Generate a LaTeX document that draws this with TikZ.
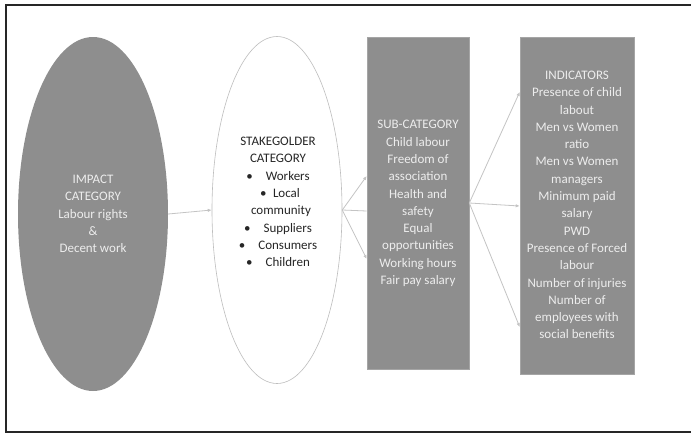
\documentclass[tikz,border=0pt]{standalone}
\usepackage{fontspec}
\setmainfont{Carlito}
\usetikzlibrary{shapes.geometric,arrows.meta}
\definecolor{boxgray}{HTML}{8E8E8E}
\definecolor{lighttext}{HTML}{EDEDED}
\definecolor{darktext}{HTML}{262626}
\definecolor{linegray}{HTML}{C4C4C4}
\definecolor{rimgray}{HTML}{BDBDBD}
\tikzset{
  txt/.style={align=center,font=\fontsize{13}{17.3}\selectfont,inner sep=0pt},
  graybox/.style={rectangle,fill=boxgray,draw=boxgray!80!white,line width=0.6pt,inner sep=0pt},
  conn/.style={draw=linegray,line width=0.8pt,-{Latex[length=4pt,width=3.5pt]}},
  plainconn/.style={draw=linegray,line width=0.8pt}
}
\begin{document}
\begin{tikzpicture}[x=1pt,y=-1pt]
\useasboundingbox (0,0) rectangle (691,434);
\fill[white] (0,0) rectangle (691,434);
% frame
\draw[line width=2pt,black!85] (691,5) -- (6,5) -- (6,432) -- (691,432);
% shapes
\node[ellipse,fill=boxgray,minimum width=150pt,minimum height=354pt,inner sep=0pt] (imp) at (93,214) {};
\node[ellipse,draw=rimgray,line width=0.6pt,fill=white,minimum width=130pt,minimum height=347pt,inner sep=0pt] (stk) at (277,210) {};
\node[graybox,minimum width=102pt,minimum height=332pt] (sub) at (418,203) {};
\node[graybox,minimum width=114pt,minimum height=337pt] (ind) at (577,205.5) {};
% texts
\node[txt,text=lighttext] (impt) at (93,214) {IMPACT\\CATEGORY\\Labour rights\\\&\\Decent work};
\node[txt,text=darktext] (stkt) at (278,202) {STAKEGOLDER\\CATEGORY\\\textbullet\quad Workers\\\hspace*{4pt}\textbullet\enspace Local\\\hspace*{6pt}community\\\textbullet\quad Suppliers\\\textbullet\quad Consumers\\\textbullet\quad Children};
\node[txt,text=lighttext] (subt) at (418,203.5) {SUB-CATEGORY\\Child labour\\Freedom of\\association\\Health and\\safety\\Equal\\opportunities\\Working hours\\Fair pay salary};
\node[txt,text=lighttext] (indt) at (577,205) {INDICATORS\\Presence of child\\labout\\Men vs Women\\ratio\\Men vs Women\\managers\\Minimum paid\\salary\\PWD\\Presence of Forced\\labour\\Number of injuries\\Number of\\employees with\\social benefits};
% connector end points
\coordinate (s1) at (sub.west |- 0,176);
\coordinate (s2) at (sub.west |- 0,211);
\coordinate (s3) at (sub.west |- 0,259);
\coordinate (so) at (sub.east |- 0,203);
\coordinate (i1) at (ind.west |- 0,92);
\coordinate (i2) at (ind.west |- 0,206);
\coordinate (i3) at (ind.west |- 0,327);
% connectors
\draw[conn] (imp.east) -- (stk.west);
\draw[conn] (stk.east) -- (s1);
\draw[plainconn] (stk.east) -- (s2);
\draw[conn] (stk.east) -- (s3);
\draw[conn] (so) -- (i1);
\draw[conn] (so) -- (i2);
\draw[conn] (so) -- (i3);
\end{tikzpicture}
\end{document}
